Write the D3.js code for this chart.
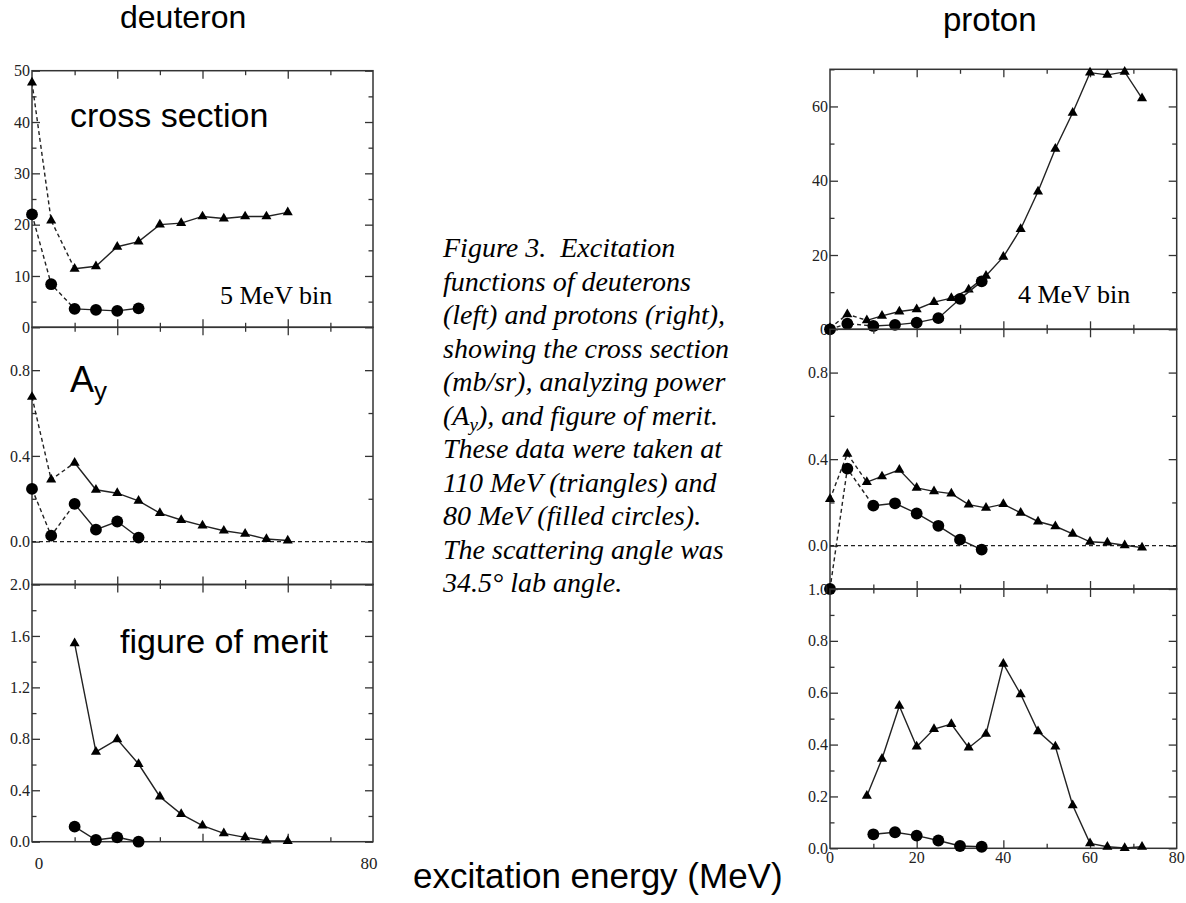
<!DOCTYPE html>
<html>
<head>
<meta charset="utf-8">
<script src="https://cdn.jsdelivr.net/npm/d3@7"></script>
<style>
  body { margin: 0; background: #fff; }
  svg { display: block; }
</style>
</head>
<body>
<div class="vis"></div>
<script>
var w = 1186;
var h = 903;

// x positions (MeV)
var deuteronX = [0, 4.5, 10, 15, 20, 25, 30, 35, 40, 45, 50, 55, 60];
var deuteronCircleX = [0, 4.5, 10, 15, 20, 25];
var deuteronFomX = [10, 15, 20, 25, 30, 35, 40, 45, 50, 55, 60];
var deuteronFomCircleX = [10, 15, 20, 25];

var protonX = [0, 4, 8.5, 12, 16, 20, 24, 28, 32, 36, 40, 44, 48, 52, 56, 60, 64, 68, 72];
var protonCircleX = [0, 4, 10, 15, 20, 25, 30, 35];
var protonFomX = [8.5, 12, 16, 20, 24, 28, 32, 36, 40, 44, 48, 52, 56, 60, 64, 68, 72];
var protonFomCircleX = [10, 15, 20, 25, 30, 35];

// deuteron values (triangles = 110 MeV, circles = 80 MeV)
var deuteronCross = [47.7, 20.8, 11.4, 11.9, 15.7, 16.7, 20.0, 20.3, 21.6, 21.2, 21.6, 21.6, 22.4];
var deuteronCrossCircle = [22.0, 8.4, 3.6, 3.4, 3.2, 3.7];
var deuteronAy = [0.675, 0.289, 0.368, 0.242, 0.226, 0.190, 0.133, 0.101, 0.075, 0.051, 0.036, 0.012, 0.005];
var deuteronAyCircle = [0.246, 0.028, 0.176, 0.056, 0.094, 0.019];
var deuteronFom = [1.543, 0.698, 0.796, 0.604, 0.350, 0.215, 0.125, 0.065, 0.034, 0.008, 0.005];
var deuteronFomCircle = [0.117, 0.013, 0.034, 0.0];

// proton values
var protonCross = [0.3, 4.05, 2.4, 3.6, 4.8, 5.4, 7.3, 8.4, 10.7, 14.4, 19.5, 27.0, 37.1, 48.6, 58.3, 69.1, 68.5, 69.3, 62.2];
var protonCrossCircle = [0, 1.5, 0.9, 1.2, 1.8, 3.0, 8.2, 12.9];
var protonAy = [0.215, 0.425, 0.294, 0.320, 0.351, 0.267, 0.251, 0.241, 0.190, 0.175, 0.192, 0.152, 0.112, 0.090, 0.055, 0.018, 0.014, 0.002, -0.009];
var protonAyCircle = [-0.2, 0.356, 0.185, 0.196, 0.149, 0.092, 0.028, -0.018];
var protonFom = [0.202, 0.345, 0.549, 0.392, 0.460, 0.479, 0.388, 0.441, 0.711, 0.594, 0.451, 0.392, 0.166, 0.019, 0.006, 0.001, 0.006];
var protonFomCircle = [0.054, 0.062, 0.049, 0.030, 0.009, 0.006];

// tick values
var xMajor = [20, 40, 60];
var xMinor = [10, 30, 50, 70];
var deuteronXLabels = [0, 80];
var protonXLabels = [0, 20, 40, 60, 80];
var dCrossTicks = [0, 10, 20, 30, 40, 50];
var dCrossMinor = [5, 15, 25, 35, 45];
var ayTicks = [0, 0.4, 0.8];
var ayMinor = [0.2, 0.6];
var dFomTicks = [0, 0.4, 0.8, 1.2, 1.6, 2.0];
var dFomMinor = [0.2, 0.6, 1.0, 1.4, 1.8];
var pCrossTicks = [0, 20, 40, 60];
var pCrossMinor = [10, 30, 50, 70];
var pFomTicks = [0, 0.2, 0.4, 0.6, 0.8, 1.0];
var pFomMinor = [0.1, 0.3, 0.5, 0.7, 0.9];

var caption = [
    "Figure 3.\u00a0 Excitation",
    "functions of deuterons",
    "(left) and protons (right),",
    "showing the cross section",
    "(mb/sr), analyzing power",
    "(A|y), and figure of merit.",
    "These data were taken at",
    "110 MeV (triangles) and",
    "80 MeV (filled circles).",
    "The scattering angle was",
    "34.5\u00b0 lab angle."
];

var serif = "'Liberation Serif', 'Times New Roman', serif";
var sans = "'Liberation Sans', Arial, sans-serif";

//Create SVG element
var svg = d3.select(".vis")
    .append("svg")
    .attr("width", w)
    .attr("height", h);

// x scales for both columns
var xLeft = d3.scaleLinear().domain([0, 80]).range([32, 373]);
var xRight = d3.scaleLinear().domain([0, 80]).range([830, 1176.7]);

function drawPanel(p) {
    var y = d3.scaleLinear().domain(p.domain).range([p.bottom, p.top]);
    var x = p.x;
    var g = svg.append("g");

    // y ticks, left side with labels
    var fmt = p.fmt;
    g.append("g")
        .attr("transform", `translate(${x.range()[0]},0)`)
        .call(d3.axisLeft(y).tickValues(p.yTicks).tickSize(-8).tickPadding(2).tickFormat(fmt));
    g.append("g")
        .attr("transform", `translate(${x.range()[0]},0)`)
        .call(d3.axisLeft(y).tickValues(p.yMinor).tickSize(-4.5).tickFormat(""));
    // right side, no labels
    g.append("g")
        .attr("transform", `translate(${x.range()[1]},0)`)
        .call(d3.axisRight(y).tickValues(p.yTicks).tickSize(-8).tickFormat(""));
    g.append("g")
        .attr("transform", `translate(${x.range()[1]},0)`)
        .call(d3.axisRight(y).tickValues(p.yMinor).tickSize(-4.5).tickFormat(""));
    // x ticks top and bottom
    g.append("g")
        .attr("transform", `translate(0,${p.top})`)
        .call(d3.axisTop(x).tickValues(xMajor).tickSize(-8).tickFormat(""));
    g.append("g")
        .attr("transform", `translate(0,${p.top})`)
        .call(d3.axisTop(x).tickValues(xMinor).tickSize(-4.5).tickFormat(""));
    g.append("g")
        .attr("transform", `translate(0,${p.bottom})`)
        .call(d3.axisBottom(x).tickValues(xMajor).tickSize(-8).tickFormat(""));
    g.append("g")
        .attr("transform", `translate(0,${p.bottom})`)
        .call(d3.axisBottom(x).tickValues(xMinor).tickSize(-4.5).tickFormat(""));

    g.selectAll(".domain").remove();
    g.selectAll(".tick line").attr("stroke", "#333").attr("stroke-width", 1.3);
    g.selectAll(".tick text")
        .attr("fill", "#222")
        .style("font-family", serif)
        .style("font-size", "16px");

    // frame
    g.append("rect")
        .attr("x", x.range()[0])
        .attr("y", p.top)
        .attr("width", x.range()[1] - x.range()[0])
        .attr("height", p.bottom - p.top)
        .attr("fill", "none")
        .attr("stroke", "#333")
        .attr("stroke-width", 1.5);

    if (p.zeroLine) {
        g.append("line")
            .attr("x1", x(0)).attr("x2", x(80))
            .attr("y1", y(0)).attr("y2", y(0))
            .attr("stroke", "#222")
            .attr("stroke-width", 1.3)
            .attr("stroke-dasharray", "4,3");
    }

    var line = d3.line().x(d => x(d[0])).y(d => y(d[1]));

    p.series.forEach(s => {
        var pts = s.xs.map((v, i) => [v, s.ys[i]]);
        // first few points joined with a dashed line
        if (s.dashed > 1) {
            g.append("path")
                .attr("d", line(pts.slice(0, s.dashed)))
                .attr("fill", "none")
                .attr("stroke", "#222")
                .attr("stroke-width", 1.4)
                .attr("stroke-dasharray", "4,3");
        }
        g.append("path")
            .attr("d", line(pts.slice(Math.max(s.dashed - 1, 0))))
            .attr("fill", "none")
            .attr("stroke", "#222")
            .attr("stroke-width", 1.4);

        var sym = s.shape === "tri" ? d3.symbol(d3.symbolTriangle).size(44) : d3.symbol(d3.symbolCircle).size(110);
        g.selectAll(null)
            .data(pts)
            .enter()
            .append("path")
            .attr("d", sym)
            .attr("transform", d => `translate(${x(d[0])},${y(d[1])})`)
            .attr("fill", "#000");
    });

    return g;
}

var f1 = d3.format(".1f");
var f0 = d3.format("d");

// deuteron column
drawPanel({
    x: xLeft, top: 70.7, bottom: 327.3, domain: [0, 50],
    yTicks: dCrossTicks, yMinor: dCrossMinor, fmt: f0,
    series: [
        { xs: deuteronX, ys: deuteronCross, shape: "tri", dashed: 3 },
        { xs: deuteronCircleX, ys: deuteronCrossCircle, shape: "circle", dashed: 3 }
    ]
});
drawPanel({
    x: xLeft, top: 327.3, bottom: 584.5, domain: [-0.2, 1.0],
    yTicks: ayTicks, yMinor: ayMinor, fmt: f1, zeroLine: true,
    series: [
        { xs: deuteronX, ys: deuteronAy, shape: "tri", dashed: 3 },
        { xs: deuteronCircleX, ys: deuteronAyCircle, shape: "circle", dashed: 3 }
    ]
});
drawPanel({
    x: xLeft, top: 584.5, bottom: 841.7, domain: [0, 2.0],
    yTicks: dFomTicks, yMinor: dFomMinor, fmt: f1,
    series: [
        { xs: deuteronFomX, ys: deuteronFom, shape: "tri", dashed: 0 },
        { xs: deuteronFomCircleX, ys: deuteronFomCircle, shape: "circle", dashed: 0 }
    ]
});

// proton column
drawPanel({
    x: xRight, top: 69.3, bottom: 329.3, domain: [0, 70],
    yTicks: pCrossTicks, yMinor: pCrossMinor, fmt: f0,
    series: [
        { xs: protonX, ys: protonCross, shape: "tri", dashed: 3 },
        { xs: protonCircleX, ys: protonCrossCircle, shape: "circle", dashed: 3 }
    ]
});
drawPanel({
    x: xRight, top: 329.3, bottom: 589, domain: [-0.2, 1.0],
    yTicks: ayTicks, yMinor: ayMinor, fmt: f1, zeroLine: true,
    series: [
        { xs: protonX, ys: protonAy, shape: "tri", dashed: 3 },
        { xs: protonCircleX, ys: protonAyCircle, shape: "circle", dashed: 3 }
    ]
});
drawPanel({
    x: xRight, top: 589, bottom: 848.3, domain: [0, 1.0],
    yTicks: pFomTicks, yMinor: pFomMinor, fmt: f1,
    series: [
        { xs: protonFomX, ys: protonFom, shape: "tri", dashed: 0 },
        { xs: protonFomCircleX, ys: protonFomCircle, shape: "circle", dashed: 0 }
    ]
});

// x tick labels under the bottom panels
svg.append("g").selectAll("text")
    .data(deuteronXLabels)
    .enter()
    .append("text")
    .attr("x", d => xLeft(d) + (d === 0 ? 7 : -4))
    .attr("y", 869)
    .attr("text-anchor", "middle")
    .style("font-family", serif)
    .style("font-size", "17px")
    .attr("fill", "#222")
    .text(d => d);

svg.append("g").selectAll("text")
    .data(protonXLabels)
    .enter()
    .append("text")
    .attr("x", d => xRight(d))
    .attr("y", 863)
    .attr("text-anchor", "middle")
    .style("font-family", serif)
    .style("font-size", "16px")
    .attr("fill", "#222")
    .text(d => d);

// titles and panel labels
function label(x, y, txt, size, family) {
    return svg.append("text")
        .attr("x", x)
        .attr("y", y)
        .style("font-family", family)
        .style("font-size", size + "px")
        .attr("fill", "#000")
        .text(txt);
}

label(120, 28, "deuteron", 32, sans);
label(943, 31, "proton", 33, sans);
label(70, 127, "cross section", 34, sans);
label(120, 653, "figure of merit", 34, sans);
label(220, 304, "5 MeV bin", 26, serif);
label(1018, 303, "4 MeV bin", 26, serif);
label(413, 888, "excitation energy (MeV)", 35, sans);

var ay = label(70, 392, "A", 36, sans);
ay.append("tspan")
    .attr("dy", 8)
    .style("font-size", "26px")
    .text("y");

// caption text, italic serif
var cap = svg.append("text")
    .style("font-family", serif)
    .style("font-style", "italic")
    .style("font-size", "28px")
    .attr("fill", "#000");

caption.forEach((line, i) => {
    var t = cap.append("tspan")
        .attr("x", 443)
        .attr("y", 257 + i * 33.5);
    var parts = line.split("|");
    if (parts.length === 1) {
        t.text(line);
    } else {
        t.append("tspan").text(parts[0]);
        var rest = parts[1];
        t.append("tspan").attr("dy", 6).style("font-size", "19px").text(rest.charAt(0));
        t.append("tspan").attr("dy", -6).text(rest.slice(1));
    }
});
</script>
</body>
</html>
